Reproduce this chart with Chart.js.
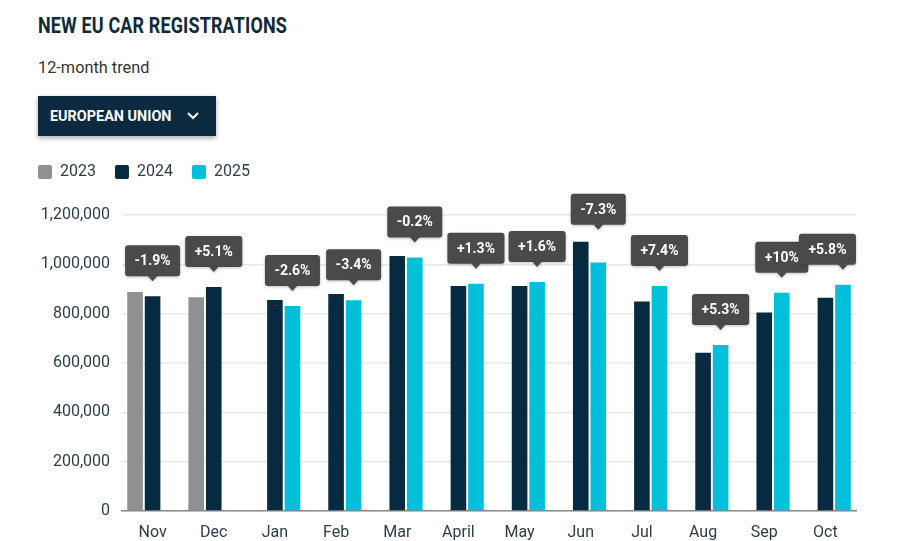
<!DOCTYPE html>
<html>
<head>
<meta charset="utf-8">
<title>New EU car registrations</title>
<script src="https://cdn.jsdelivr.net/npm/chart.js@4.4.1/dist/chart.umd.min.js"></script>
<style>
  html, body { margin: 0; padding: 0; background: #fff; }
  body { width: 910px; height: 541px; position: relative; overflow: hidden; font-family: Roboto, "Noto Sans", sans-serif; }
  #title { position: absolute; left: 38px; top: 13px; font-size: 22px; font-weight: 700; color: #10293a;
           white-space: nowrap; transform: scaleX(0.815); transform-origin: left top; letter-spacing: 0.2px; }
  #subtitle { position: absolute; left: 38px; top: 57px; font-size: 17px; color: #333; white-space: nowrap;
              transform: scaleX(0.96); transform-origin: left top; }
  #region-btn { position: absolute; left: 38px; top: 96px; width: 178px; height: 40px; background: #0b2a3f;
                box-shadow: 0 2px 5px rgba(0,0,0,0.35); color: #fff; }
  #region-btn span { position: absolute; left: 12px; top: 11px; font-size: 15px; font-weight: 700; white-space: nowrap;
                     transform: scaleX(0.96); transform-origin: left top; }
  #region-btn svg { position: absolute; top: 0; }
  #wrap { position: absolute; left: 0; top: 0; width: 910px; height: 541px; }
</style>
</head>
<body>
<div id="title">NEW EU CAR REGISTRATIONS</div>
<div id="subtitle">12-month trend</div>
<div id="region-btn"><span>EUROPEAN UNION</span>
  <svg width="14" height="40" viewBox="0 0 14 40" style="left:148px"><polyline points="2,17 7,22 12,17" fill="none" stroke="#fff" stroke-width="2"/></svg>
</div>
<div id="wrap"><canvas id="chart" width="910" height="541"></canvas></div>

<script>
// ===========================================================
// Data
// ===========================================================
const months = ["Nov", "Dec", "Jan", "Feb", "Mar", "April", "May", "Jun", "Jul", "Aug", "Sep", "Oct"];
const years = ["2023", "2024", "2025"];
const reg2023 = [888000, 867000, null, null, null, null, null, null, null, null, null, null];
const reg2024 = [871000, 908000, 855000, 880000, 1034000, 912000, 912000, 1092000, 849000, 642000, 805000, 865000];
const reg2025 = [null, null, 831000, 854000, 1028000, 921000, 928000, 1007000, 912000, 673000, 885000, 917000];
const changes = ["-1.9%", "+5.1%", "-2.6%", "-3.4%", "-0.2%", "+1.3%", "+1.6%", "-7.3%", "+7.4%", "+5.3%", "+10%", "+5.8%"];
const yTicks = [0, 200000, 400000, 600000, 800000, 1000000, 1200000];

const COLORS = ["#8e9091", "#062b40", "#00bfd9"];
const TEXT = "#2e3d48";

/* ===========================================================
   Badge plugin: % change bubble above the latest year's bar
   =========================================================== */
const changeBadges = {
  id: "changeBadges",
  afterDatasetsDraw(chart) {
    const ctx = chart.ctx;
    const area = chart.chartArea;
    ctx.save();
    ctx.font = "bold 14px Roboto";
    months.forEach((m, i) => {
      const latest = reg2025[i] != null ? 2 : 1;
      const el = chart.getDatasetMeta(latest).data[i];
      const other = chart.getDatasetMeta(latest - 1).data[i];
      if (!el) return;
      let tip = el.y - 15;
      if (other && other.y < tip) tip = other.y - 12;

      const label = changes[i];
      const w = ctx.measureText(label).width + 19;
      const h = 31;
      let left = el.x - w / 2;
      if (left + w > area.right) left = area.right - w;
      const top = tip - 5 - h;

      ctx.shadowColor = "rgba(0,0,0,0.25)";
      ctx.shadowBlur = 3;
      ctx.shadowOffsetY = 1;
      ctx.fillStyle = "#4a4a4a";
      ctx.beginPath();
      ctx.roundRect(left, top, w, h, 3);
      ctx.fill();
      ctx.beginPath();
      ctx.moveTo(el.x - 5, top + h - 0.5);
      ctx.lineTo(el.x + 5, top + h - 0.5);
      ctx.lineTo(el.x, tip);
      ctx.closePath();
      ctx.fill();
      ctx.shadowColor = "transparent";

      ctx.fillStyle = "#fff";
      ctx.textAlign = "center";
      ctx.textBaseline = "middle";
      ctx.fillText(label, left + w / 2, top + h / 2 + 1);
    });
    ctx.restore();
  }
};

// legend height fix so the plot starts below it
const legendSpace = {
  id: "legendSpace",
  beforeInit(chart) {
    const fit = chart.legend.fit;
    chart.legend.fit = function () {
      fit.bind(chart.legend)();
      this.height = 70;
    };
  }
};

/* ===========================================================
   Chart
   =========================================================== */
const ctx = document.getElementById("chart");
new Chart(ctx, {
  type: "bar",
  data: {
    labels: months,
    datasets: [reg2023, reg2024, reg2025].map((d, k) => ({
      label: years[k],
      data: d,
      backgroundColor: COLORS[k],
      borderWidth: 0,
      categoryPercentage: 0.86,
      barPercentage: 0.89
    }))
  },
  options: {
    responsive: false,
    animation: false,
    devicePixelRatio: 1,
    layout: { padding: { top: 145, left: 19, right: 54, bottom: 0 } },
    plugins: {
      tooltip: { enabled: false },
      legend: {
        position: "top",
        align: "start",
        labels: {
          boxWidth: 14,
          boxHeight: 14,
          useBorderRadius: true,
          borderRadius: 2,
          padding: 19,
          color: TEXT,
          font: { family: "Roboto", size: 16 }
        }
      }
    },
    scales: {
      x: {
        grid: { display: false },
        border: { color: "#8a8a8a", width: 1.5 },
        ticks: { color: TEXT, font: { family: "Roboto", size: 16 }, padding: 4 },
        afterFit: s => { s.height = 30; }
      },
      y: {
        min: 0,
        max: 1200000,
        afterBuildTicks: s => { s.ticks = yTicks.map(v => ({ value: v })); },
        grid: { color: "#e8e8e8", lineWidth: 1.5, drawTicks: false },
        border: { display: false },
        ticks: {
          color: TEXT,
          padding: 12,
          font: { family: "Roboto", size: 16 },
          callback: v => v.toLocaleString("en-US")
        },
        afterFit: s => { s.width = 103; }
      }
    }
  },
  plugins: [legendSpace, changeBadges]
});
</script>
</body>
</html>
